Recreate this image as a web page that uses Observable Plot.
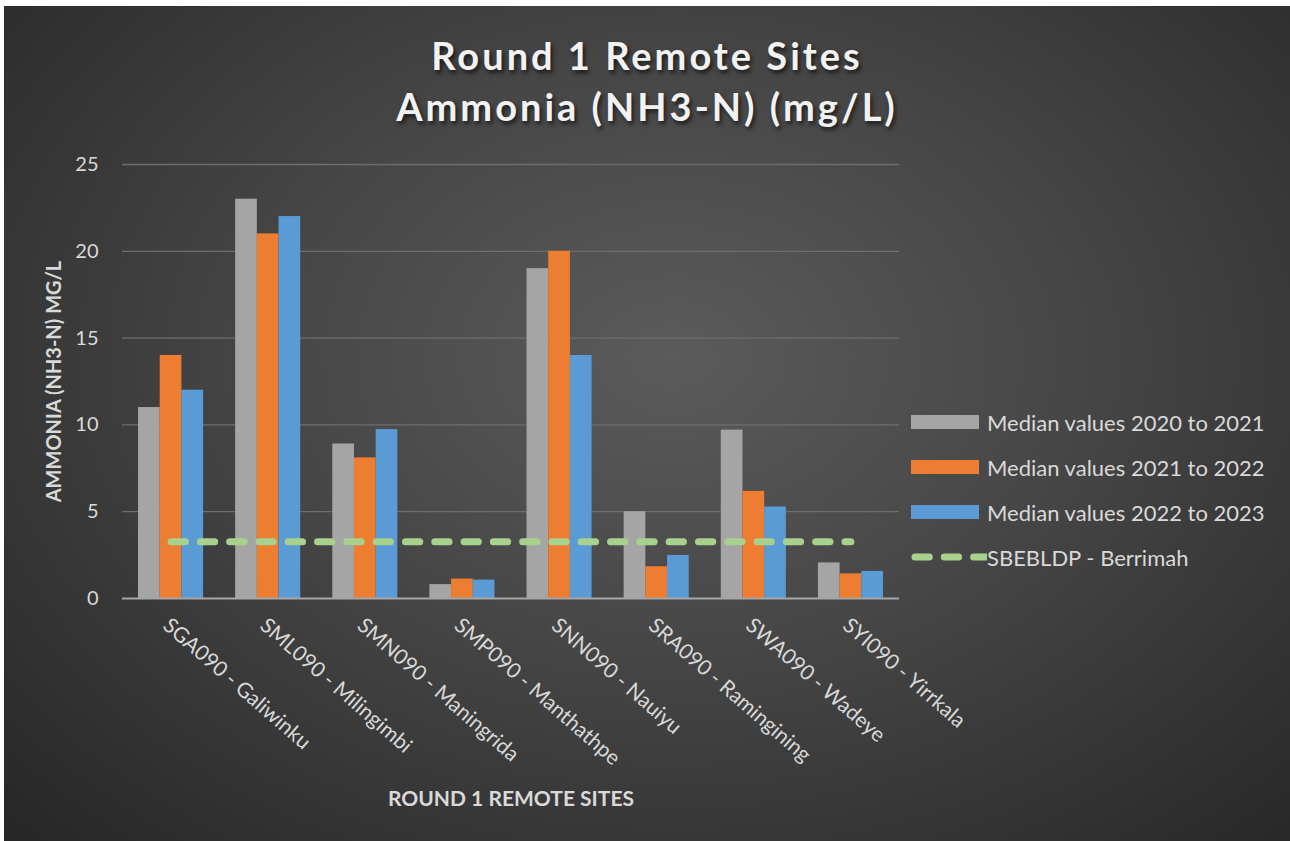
<!DOCTYPE html>
<html>
<head>
<meta charset="utf-8">
<script src="https://cdn.jsdelivr.net/npm/d3@7"></script>
<script src="https://cdn.jsdelivr.net/npm/@observablehq/plot@0.6"></script>
<style>
  html, body { margin: 0; padding: 0; background: #ffffff; }
  #chart {
    position: absolute; left: 4px; top: 6px; width: 1286px; height: 835px;
    background: radial-gradient(ellipse farthest-corner at 52% 42%, #5b5b5b 0%, #454545 45%, #262626 100%);
    font-family: Lato, "Open Sans", sans-serif; overflow: hidden;
  }
  #title {
    height: 140px; box-sizing: border-box; padding-top: 24px;
    text-align: center; color: #f2f2f2; font-weight: bold; font-size: 38px;
    line-height: 51px; letter-spacing: 3px;
    text-shadow: 2px 3px 4px rgba(0,0,0,0.65);
  }
  #legend { position: absolute; left: 907px; top: 0; color: #d9d9d9; font-size: 22px; }
  .row { position: absolute; left: 0; width: 380px; height: 30px; display: flex; align-items: center; }
  .sw { width: 68px; height: 14px; margin-right: 8px; flex: none; }
  .row span { white-space: nowrap; }
</style>
</head>
<body>
<div id="chart">
  <div id="title">Round 1 Remote Sites<br>Ammonia (NH3-N) (mg/L)</div>
  <div id="plot"></div>
  <div id="legend"></div>
</div>
<script>
// ---- data ----
const sites = [
  "SGA090 - Galiwinku", "SML090 - Milingimbi", "SMN090 - Maningrida", "SMP090 - Manthathpe",
  "SNN090 - Nauiyu", "SRA090 - Ramingining", "SWA090 - Wadeye", "SYI090 - Yirrkala"
];
const median2020to2021 = [11.0, 23.0, 8.9, 0.8, 19.0, 5.0, 9.7, 2.05];
const median2021to2022 = [14.0, 21.0, 8.1, 1.12, 20.0, 1.83, 6.17, 1.42];
const median2022to2023 = [12.0, 22.0, 9.73, 1.06, 14.0, 2.48, 5.27, 1.56];
const berrimah = [3.27, 3.27, 3.27, 3.27, 3.27, 3.27, 3.27, 3.27];
const seriesNames = ["Median values 2020 to 2021", "Median values 2021 to 2022", "Median values 2022 to 2023"];
const lineName = "SBEBLDP - Berrimah";
const seriesColors = ["#a5a5a5", "#ed7d31", "#5b9bd5"];
const lineColor = "#a9d18e";
const yTicks = [0, 5, 10, 15, 20, 25];
const yTitle = "AMMONIA (NH3-N) MG/L";
const xTitle = "ROUND 1 REMOTE SITES";

// ---- build tables ----
const seriesValues = [median2020to2021, median2021to2022, median2022to2023];
const GROUP = 0.67;              // fraction of a category slot filled by its bars
const BW = GROUP / seriesNames.length;
const rows = [];
sites.forEach((site, i) => {
  seriesValues.forEach((vals, k) => {
    rows.push({site, i, k, series: seriesNames[k], value: vals[i]});
  });
});
const lineRows = sites.map((site, i) => ({site, i, value: berrimah[i]}));

const textColor = "#d9d9d9";

const plot = Plot.plot({
  width: 1286,
  height: 695,
  marginLeft: 118,
  marginRight: 391,
  marginTop: 18,
  marginBottom: 243,
  x: {domain: [0, sites.length], axis: null},
  y: {domain: [0, 25], axis: null},
  color: {domain: seriesNames, range: seriesColors},
  style: {background: "transparent", fontFamily: "Lato, 'Open Sans', sans-serif", color: textColor, overflow: "visible"},
  marks: [
    Plot.gridY(yTicks.filter(t => t > 0), {stroke: "#6e6e6e", strokeOpacity: 1, strokeWidth: 1.3}),
    Plot.axisY({ticks: yTicks, tickSize: 0, tickPadding: 24, fontSize: 20, label: null, color: textColor}),
    Plot.rectY(rows, {
      x1: d => d.i + 0.5 + (d.k - seriesNames.length / 2) * BW,
      x2: d => d.i + 0.5 + (d.k - seriesNames.length / 2 + 1) * BW,
      y1: 0, y2: "value", fill: "series",
      style: "filter: drop-shadow(2px 0px 3px rgba(0,0,0,0.45))"
    }),
    Plot.ruleY([0], {stroke: "#a6a6a6", strokeWidth: 2}),
    Plot.lineY(lineRows, {
      x: d => d.i + 0.5, y: "value", stroke: lineColor, strokeWidth: 7,
      strokeDasharray: "14.3,15", strokeLinecap: "round"
    }),
    Plot.axisX({
      ticks: sites.map((s, i) => i + 0.5),
      tickFormat: t => sites[Math.floor(t)],
      tickRotate: 41, tickSize: 0, tickPadding: 24, dx: -5,
      fontSize: 21, label: null, color: textColor
    }),
    Plot.text([yTitle], {frameAnchor: "left", textAnchor: "middle", rotate: -90, dx: -68, fontSize: 20, fontWeight: "bold", fill: textColor}),
    Plot.text([xTitle], {frameAnchor: "bottom", textAnchor: "middle", dy: 207, fontSize: 21, fontWeight: "bold", fill: textColor})
  ]
});
document.getElementById("plot").appendChild(plot);

// ---- legend ----
const legend = document.getElementById("legend");
const rowCenters = [416, 461, 506, 551];
seriesNames.forEach((name, k) => {
  const r = document.createElement("div");
  r.className = "row";
  r.style.top = (rowCenters[k] - 15) + "px";
  r.innerHTML = `<div class="sw" style="background:${seriesColors[k]}"></div><span>${name}</span>`;
  legend.appendChild(r);
});
const lr = document.createElement("div");
lr.className = "row";
lr.style.top = (rowCenters[3] - 15) + "px";
lr.innerHTML = `<svg width="76" height="14" style="flex:none"><line x1="4" x2="76" y1="7" y2="7" stroke="${lineColor}" stroke-width="7" stroke-linecap="round" stroke-dasharray="14.3,15"/></svg><span>${lineName}</span>`;
legend.appendChild(lr);
</script>
</body>
</html>
